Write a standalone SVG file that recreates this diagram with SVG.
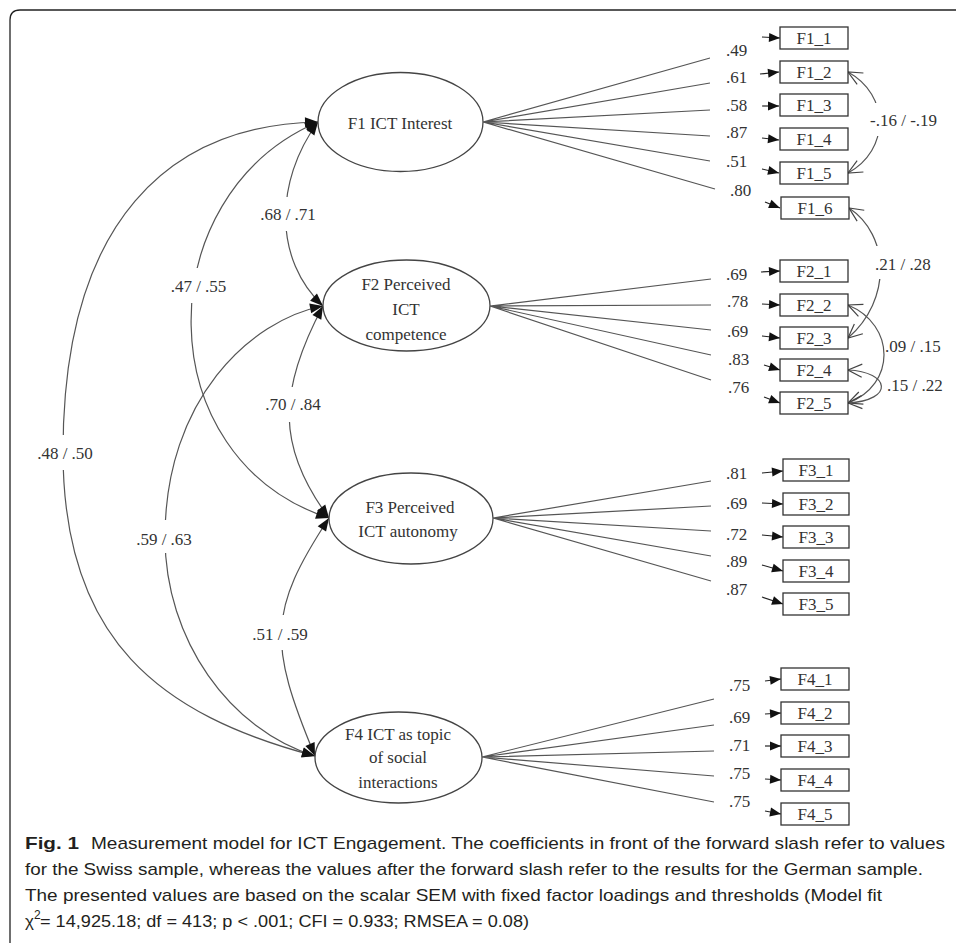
<svg xmlns="http://www.w3.org/2000/svg" width="956" height="943" viewBox="0 0 956 943">
<style>
.bg{fill:#fff}
.frame{fill:none;stroke:#222;stroke-width:1.3}
.el{fill:#fff;stroke:#444;stroke-width:1.3}
.box{fill:#fff;stroke:#333;stroke-width:1.3}
.t{font-family:"Liberation Serif","Times New Roman",serif;font-size:17px;fill:#333}
.c{text-anchor:middle}
.ln{fill:none;stroke:#555;stroke-width:1.2}
.arc{fill:none;stroke:#555;stroke-width:1.2}
.err{fill:none;stroke:#222;stroke-width:1.2}
.wb{fill:#fff}
.cap{font-family:"Liberation Sans Narrow","Liberation Sans",Arial,sans-serif;font-size:17px;fill:#231f20}
.capb{font-family:"Liberation Sans Narrow","Liberation Sans",Arial,sans-serif;font-size:17px;font-weight:bold;fill:#231f20}
</style>
<defs>
<marker id="fa" markerUnits="userSpaceOnUse" viewBox="-14 -7 15 14" markerWidth="15" markerHeight="14" refX="0" refY="0" orient="auto-start-reverse"><path d="M -13 -5 L 0 0 L -13 5 Z" fill="#111"/></marker>
<marker id="ea" markerUnits="userSpaceOnUse" viewBox="-12 -6 13 12" markerWidth="13" markerHeight="12" refX="0" refY="0" orient="auto"><path d="M -11 -4.5 L 0 0 L -11 4.5 Z" fill="#111"/></marker>
<marker id="oa" markerUnits="userSpaceOnUse" viewBox="-16 -8 18 16" markerWidth="18" markerHeight="16" refX="0" refY="0" orient="auto-start-reverse"><path d="M -14 -6.5 L 0 0 L -14 6.5" fill="none" stroke="#444" stroke-width="1.2"/></marker>
</defs>
<rect class="bg" x="0" y="0" width="956" height="943"/>
<path class="frame" d="M 10 943 V 20 Q 10 10 20 10 H 956"/>

<g id="connectors">
  <!-- loadings F1 -->
  <path class="ln" d="M 483 122 L 710 58 M 483 122 L 710 83 M 483 122 L 710 110 M 483 122 L 710 136 M 483 122 L 710 161 M 483 122 L 715 189"/>
  <!-- loadings F2 -->
  <path class="ln" d="M 490 306 L 711 279 M 490 306 L 711 305 M 490 306 L 711 330 M 490 306 L 711 355 M 490 306 L 711 380"/>
  <!-- loadings F3 -->
  <path class="ln" d="M 493 518 L 711 481 M 493 518 L 711 506 M 493 518 L 711 531 M 493 518 L 711 556 M 493 518 L 711 581"/>
  <!-- loadings F4 -->
  <path class="ln" d="M 482 757 L 714 699 M 482 757 L 714 725 M 482 757 L 714 751 M 482 757 L 714 776 M 482 757 L 714 802"/>

  <!-- error arrows -->
  <g marker-end="url(#ea)">
    <line class="err" x1="762" y1="37" x2="780" y2="38"/>
    <line class="err" x1="760" y1="74" x2="779" y2="72"/>
    <line class="err" x1="762" y1="106" x2="779" y2="106"/>
    <line class="err" x1="762" y1="138" x2="779" y2="140"/>
    <line class="err" x1="762" y1="169" x2="779" y2="173"/>
    <line class="err" x1="765" y1="202" x2="780" y2="208"/>
    <line class="err" x1="761" y1="272" x2="780" y2="271"/>
    <line class="err" x1="762" y1="304" x2="780" y2="305"/>
    <line class="err" x1="762" y1="336" x2="780" y2="338"/>
    <line class="err" x1="764" y1="365" x2="780" y2="370"/>
    <line class="err" x1="764" y1="397" x2="780" y2="403"/>
    <line class="err" x1="762" y1="473" x2="783" y2="471"/>
    <line class="err" x1="762" y1="503" x2="783" y2="504"/>
    <line class="err" x1="762" y1="535" x2="783" y2="537"/>
    <line class="err" x1="762" y1="565" x2="783" y2="571"/>
    <line class="err" x1="762" y1="597" x2="783" y2="604"/>
    <line class="err" x1="765" y1="681" x2="781" y2="679"/>
    <line class="err" x1="765" y1="714" x2="781" y2="713"/>
    <line class="err" x1="765" y1="746" x2="781" y2="746"/>
    <line class="err" x1="765" y1="779" x2="781" y2="780"/>
    <line class="err" x1="765" y1="811" x2="781" y2="814"/>
  </g>

  <!-- residual covariances (right) -->
  <path class="arc" marker-start="url(#oa)" marker-end="url(#oa)" d="M 848 72 C 890 95, 890 150, 848 173"/>
  <path class="arc" marker-start="url(#oa)" marker-end="url(#oa)" d="M 849 208 C 890 235, 892 300, 848 338"/>
  <path class="arc" marker-start="url(#oa)" marker-end="url(#oa)" d="M 848 305 C 896 325, 896 385, 848 403"/>
  <path class="arc" marker-start="url(#oa)" marker-end="url(#oa)" d="M 848 370 C 890 372, 895 400, 848 403"/>

  <!-- factor correlations (left) -->
  <path class="arc" marker-start="url(#fa)" marker-end="url(#fa)" d="M 318 122 C 274 182, 274 260, 323 306"/>
  <path class="arc" marker-start="url(#fa)" marker-end="url(#fa)" d="M 318 122 C 147 195, 147 459, 329 518"/>
  <path class="arc" marker-start="url(#fa)" marker-end="url(#fa)" d="M 318 122 C 170 125, 63 220, 63 452 C 63 640, 160 715, 315 756"/>
  <path class="arc" marker-start="url(#fa)" marker-end="url(#fa)" d="M 323 306 C 277 392, 277 448, 329 518"/>
  <path class="arc" marker-start="url(#fa)" marker-end="url(#fa)" d="M 323 306 C 250 320, 165 400, 165 537 C 165 640, 230 730, 315 756"/>
  <path class="arc" marker-start="url(#fa)" marker-end="url(#fa)" d="M 329 518 C 268 611, 268 643, 315 756"/>

  <!-- label backgrounds -->
  <rect class="wb" x="866" y="103" width="75" height="33"/>
  <rect class="wb" x="872" y="246" width="63" height="33"/>
  <rect class="wb" x="257" y="197" width="62" height="34"/>
  <rect class="wb" x="168" y="268" width="62" height="35"/>
  <rect class="wb" x="34" y="435" width="62" height="35"/>
  <rect class="wb" x="262" y="387" width="62" height="35"/>
  <rect class="wb" x="133" y="520" width="62" height="33"/>
  <rect class="wb" x="250" y="615" width="60" height="35"/>

  <!-- loading labels -->
  <text class="t" x="726" y="55.5">.49</text>
  <text class="t" x="726" y="82.5">.61</text>
  <text class="t" x="726" y="110.5">.58</text>
  <text class="t" x="726" y="138">.87</text>
  <text class="t" x="726" y="166.5">.51</text>
  <text class="t" x="730" y="196">.80</text>
  <text class="t" x="726" y="280">.69</text>
  <text class="t" x="727" y="307">.78</text>
  <text class="t" x="727" y="337">.69</text>
  <text class="t" x="728" y="365">.83</text>
  <text class="t" x="728" y="392.5">.76</text>
  <text class="t" x="726" y="479">.81</text>
  <text class="t" x="726" y="509">.69</text>
  <text class="t" x="726" y="540">.72</text>
  <text class="t" x="726" y="567">.89</text>
  <text class="t" x="726" y="595">.87</text>
  <text class="t" x="729" y="691">.75</text>
  <text class="t" x="729" y="723">.69</text>
  <text class="t" x="729" y="751">.71</text>
  <text class="t" x="729" y="779">.75</text>
  <text class="t" x="729" y="807">.75</text>

  <!-- covariance labels -->
  <text class="t" x="870" y="126">-.16 / -.19</text>
  <text class="t" x="875" y="270">.21 / .28</text>
  <text class="t" x="885" y="351.5">.09 / .15</text>
  <text class="t" x="887" y="390.5">.15 / .22</text>
  <text class="t c" x="288" y="220">.68 / .71</text>
  <text class="t c" x="198.5" y="292">.47 / .55</text>
  <text class="t c" x="65" y="459">.48 / .50</text>
  <text class="t c" x="293" y="410">.70 / .84</text>
  <text class="t c" x="164" y="545">.59 / .63</text>
  <text class="t c" x="280" y="640">.51 / .59</text>
</g>

<g id="F1">
  <ellipse class="el" cx="400.5" cy="122" rx="82.5" ry="49.5"/>
  <text class="t c" x="400" y="129">F1 ICT Interest</text>
</g>
<g id="F2">
  <ellipse class="el" cx="406.5" cy="305.5" rx="83.5" ry="45.5"/>
  <text class="t c" x="406" y="290">F2 Perceived</text>
  <text class="t c" x="406" y="315">ICT</text>
  <text class="t c" x="406" y="340">competence</text>
</g>
<g id="F3">
  <ellipse class="el" cx="411" cy="518.5" rx="82" ry="45.5"/>
  <text class="t c" x="410" y="513">F3 Perceived</text>
  <text class="t c" x="408" y="537">ICT autonomy</text>
</g>
<g id="F4">
  <ellipse class="el" cx="398.5" cy="757.5" rx="83.5" ry="45.5"/>
  <text class="t c" x="398" y="740">F4 ICT as topic</text>
  <text class="t c" x="398" y="763">of social</text>
  <text class="t c" x="398" y="788">interactions</text>
</g>

<g id="F1_1"><rect class="box" x="780" y="27" width="68" height="22"/><text class="t c" x="814" y="44">F1_1</text></g>
<g id="F1_2"><rect class="box" x="780" y="61" width="68" height="22"/><text class="t c" x="814" y="78">F1_2</text></g>
<g id="F1_3"><rect class="box" x="780" y="94" width="68" height="22"/><text class="t c" x="814" y="111">F1_3</text></g>
<g id="F1_4"><rect class="box" x="780" y="128" width="68" height="22"/><text class="t c" x="814" y="145">F1_4</text></g>
<g id="F1_5"><rect class="box" x="780" y="162" width="68" height="22"/><text class="t c" x="814" y="179">F1_5</text></g>
<g id="F1_6"><rect class="box" x="781" y="197" width="68" height="22"/><text class="t c" x="815" y="214">F1_6</text></g>

<g id="F2_1"><rect class="box" x="780" y="260" width="68" height="22"/><text class="t c" x="814" y="277">F2_1</text></g>
<g id="F2_2"><rect class="box" x="780" y="294" width="68" height="22"/><text class="t c" x="814" y="311">F2_2</text></g>
<g id="F2_3"><rect class="box" x="780" y="327" width="68" height="22"/><text class="t c" x="814" y="344">F2_3</text></g>
<g id="F2_4"><rect class="box" x="780" y="359" width="68" height="22"/><text class="t c" x="814" y="376">F2_4</text></g>
<g id="F2_5"><rect class="box" x="780" y="392" width="68" height="22"/><text class="t c" x="814" y="409">F2_5</text></g>

<g id="F3_1"><rect class="box" x="783" y="459" width="66" height="22"/><text class="t c" x="816" y="476">F3_1</text></g>
<g id="F3_2"><rect class="box" x="783" y="493" width="66" height="22"/><text class="t c" x="816" y="510">F3_2</text></g>
<g id="F3_3"><rect class="box" x="783" y="526" width="66" height="22"/><text class="t c" x="816" y="543">F3_3</text></g>
<g id="F3_4"><rect class="box" x="783" y="560" width="66" height="22"/><text class="t c" x="816" y="577">F3_4</text></g>
<g id="F3_5"><rect class="box" x="783" y="593" width="66" height="22"/><text class="t c" x="816" y="610">F3_5</text></g>

<g id="F4_1"><rect class="box" x="781" y="668" width="68" height="22"/><text class="t c" x="815" y="685">F4_1</text></g>
<g id="F4_2"><rect class="box" x="781" y="702" width="68" height="22"/><text class="t c" x="815" y="719">F4_2</text></g>
<g id="F4_3"><rect class="box" x="781" y="735" width="68" height="22"/><text class="t c" x="815" y="752">F4_3</text></g>
<g id="F4_4"><rect class="box" x="781" y="769" width="68" height="22"/><text class="t c" x="815" y="786">F4_4</text></g>
<g id="F4_5"><rect class="box" x="781" y="803" width="68" height="22"/><text class="t c" x="815" y="820">F4_5</text></g>

<g id="caption">
  <text class="capb" x="25" y="849" textLength="54" lengthAdjust="spacingAndGlyphs">Fig. 1</text>
  <text class="cap" x="91" y="849" textLength="854" lengthAdjust="spacingAndGlyphs">Measurement model for ICT Engagement. The coefficients in front of the forward slash refer to values</text>
  <text class="cap" x="25" y="875" textLength="898" lengthAdjust="spacingAndGlyphs">for the Swiss sample, whereas the values after the forward slash refer to the results for the German sample.</text>
  <text class="cap" x="25" y="901" textLength="857" lengthAdjust="spacingAndGlyphs">The presented values are based on the scalar SEM with fixed factor loadings and thresholds (Model fit</text>
  <text class="cap" x="25" y="927">χ</text>
  <text class="cap" x="34" y="919" style="font-size:12px">2</text>
  <text class="cap" x="40" y="927" textLength="489" lengthAdjust="spacingAndGlyphs">= 14,925.18; df = 413; p &lt; .001; CFI = 0.933; RMSEA = 0.08)</text>
</g>
</svg>
